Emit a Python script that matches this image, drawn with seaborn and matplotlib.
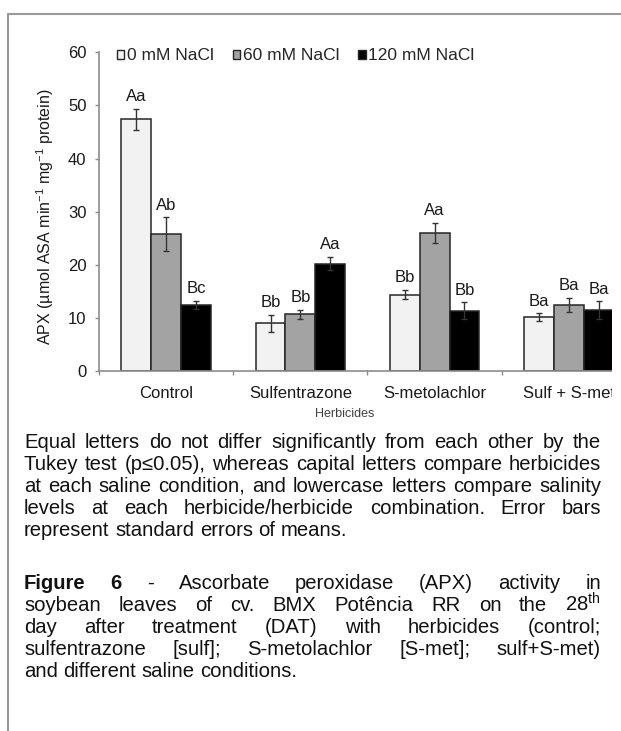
import matplotlib
matplotlib.use("Agg")
import matplotlib.pyplot as plt
import seaborn as sns
import pandas as pd
from matplotlib import font_manager
from matplotlib.patches import Patch, Rectangle
from matplotlib.lines import Line2D

# ---------------- data ----------------
herbicides = ["Control", "Sulfentrazone", "S-metolachlor", "Sulf + S-met"]
salinity = ["0 mM NaCl", "60 mM NaCl", "120 mM NaCl"]
apx_0 = [47.4, 9.0, 14.4, 10.1]
apx_60 = [25.7, 10.7, 26.0, 12.4]
apx_120 = [12.4, 20.2, 11.3, 11.4]
se_0 = [2.0, 1.6, 0.8, 0.75]
se_60 = [3.2, 0.85, 1.85, 1.35]
se_120 = [0.8, 1.25, 1.6, 1.7]
letters_0 = ["Aa", "Bb", "Bb", "Ba"]
letters_60 = ["Ab", "Bb", "Aa", "Ba"]
letters_120 = ["Bc", "Aa", "Bb", "Ba"]
y_ticks = [0, 10, 20, 30, 40, 50, 60]
y_label = "APX (µmol ASA min$^{-1}$ mg$^{-1}$ protein)"
x_label = "Herbicides"

note_lines = [
    "Equal letters do not differ significantly from each other by the",
    "Tukey test (p≤0.05), whereas capital letters compare herbicides",
    "at each saline condition, and lowercase letters compare salinity",
    "levels at each herbicide/herbicide combination. Error bars",
    "represent standard errors of means.",
]
caption_lines = [
    "Figure 6 - Ascorbate peroxidase (APX) activity in",
    "soybean leaves of cv. BMX Potência RR on the 28$^{\\mathregular{th}}$",
    "day after treatment (DAT) with herbicides (control;",
    "sulfentrazone [sulf]; S-metolachlor [S-met]; sulf+S-met)",
    "and different saline conditions.",
]

colors = ["#f2f2f2", "#a3a3a3", "#000000"]

# ---------------- style ----------------
sns.set_style("ticks")
plt.rcParams["font.family"] = ["Liberation Sans", "DejaVu Sans"]
plt.rcParams["mathtext.fontset"] = "custom"
plt.rcParams["mathtext.rm"] = "Liberation Sans"
plt.rcParams["mathtext.it"] = "Liberation Sans:italic"
plt.rcParams["mathtext.bf"] = "Liberation Sans:bold"

installed = {f.name for f in font_manager.fontManager.ttflist}
if "Liberation Sans Narrow" in installed:
    cap_family = ["Liberation Sans Narrow", "Liberation Sans", "DejaVu Sans"]
else:
    cap_family = ["Liberation Sans", "DejaVu Sans"]

W, H = 621, 731
fig = plt.figure(figsize=(W / 100, H / 100), dpi=100)
fig.patch.set_facecolor("white")

ax_left, ax_right, ax_top, ax_bottom = 99, 636, 52.3, 371
ax = fig.add_axes([ax_left / W, 1 - ax_bottom / H,
                   (ax_right - ax_left) / W, (ax_bottom - ax_top) / H])

rows = []
for h_i, h in enumerate(herbicides):
    for s, vals in zip(salinity, [apx_0, apx_60, apx_120]):
        rows.append({"herbicide": h, "salinity": s, "apx": vals[h_i]})
df = pd.DataFrame(rows)

sns.barplot(data=df, x="herbicide", y="apx", hue="salinity",
            order=herbicides, hue_order=salinity, palette=colors,
            edgecolor="#262626", linewidth=1.1, width=0.665,
            errorbar=None, legend=False, ax=ax, zorder=2)

for cont, ses, lets in zip(ax.containers, [se_0, se_60, se_120],
                           [letters_0, letters_60, letters_120]):
    xs = [b.get_x() + b.get_width() / 2 for b in cont]
    ys = [b.get_height() for b in cont]
    ax.errorbar(xs, ys, yerr=ses, fmt="none", ecolor="#333333",
                elinewidth=1, capsize=2.5, capthick=1, zorder=3)
    for x, y, e, l in zip(xs, ys, ses, lets):
        ax.annotate(l, (x, y + e), xytext=(0, 3.5), textcoords="offset points",
                    ha="center", va="bottom", fontsize=12, color="#1a1a1a")

ax.set_ylim(0, 60)
ax.set_yticks(y_ticks)
ax.set_xlim(-0.5, 3.5)
ax.set_xticks([-0.5, 0.5, 1.5, 2.5, 3.5])
ax.set_xticklabels([])
ax.set_xticks(range(len(herbicides)), minor=True)
ax.set_xticklabels(herbicides, minor=True)

spine_c = "#8c8c8c"
for s in ["top", "right"]:
    ax.spines[s].set_visible(False)
for s in ["left", "bottom"]:
    ax.spines[s].set_color(spine_c)
    ax.spines[s].set_linewidth(1.2)
ax.tick_params(axis="y", direction="out", length=3, width=1, color=spine_c,
               pad=6, labelsize=12, labelcolor="#1a1a1a")
ax.tick_params(axis="x", which="major", direction="out", length=3, width=1,
               color=spine_c)
ax.tick_params(axis="x", which="minor", length=0, pad=11, labelsize=12,
               labelcolor="#1a1a1a")

ax.set_ylabel(y_label, fontsize=11.5, color="#1a1a1a")
ax.yaxis.set_label_coords(-0.08, 0.485)
ax.set_xlabel(x_label, fontsize=9, color="#404040")
ax.xaxis.set_label_coords(0.458, -0.115)

handles = [Patch(facecolor=c, edgecolor="#262626", linewidth=1, label=s)
           for c, s in zip(colors, salinity)]
fig.legend(handles=handles, loc="center left", ncol=3,
           bbox_to_anchor=(117 / W, 1 - 56 / H), frameon=False,
           fontsize=12.5, handlelength=0.42, handleheight=0.42,
           handletextpad=0.15, columnspacing=1.1, borderpad=0,
           borderaxespad=0)

# cover to mimic the cropped right side
fig.add_artist(Rectangle((612 / W, 0), 1, 1 - 16 / H, transform=fig.transFigure,
                         facecolor="white", edgecolor="none", zorder=50))
# page frame lines
fig.add_artist(Line2D([8 / W, 1], [1 - 14 / H, 1 - 14 / H],
                      transform=fig.transFigure, color="#9a9a9a", lw=1.5, zorder=60))
fig.add_artist(Line2D([8 / W, 8 / W], [0, 1 - 14 / H],
                      transform=fig.transFigure, color="#9a9a9a", lw=1.5, zorder=60))

# ---------------- justified caption text ----------------
renderer = fig.canvas.get_renderer()
X0, X1 = 24, 601


def measure(s, size, weight="normal"):
    t = fig.text(0, 0, s, fontsize=size, fontweight=weight, family=cap_family)
    w = t.get_window_extent(renderer).width
    t.remove()
    return w


# calibrate the size so the tightest justified line nearly fills the column
base = 14.0
tight = [note_lines[0], note_lines[1], note_lines[2], caption_lines[3]]
widest = max(measure(l, base) for l in tight)
cap_size = min(base * 572.0 / widest, 15.5)


def draw_line(line, y_base, justify, bold_words=0):
    words = line.split(" ")
    texts = []
    for i, w in enumerate(words):
        wt = "bold" if i < bold_words else "normal"
        texts.append(fig.text(0, 1 - y_base / H, w, fontsize=cap_size,
                              fontweight=wt, va="baseline", ha="left",
                              color="#111111", family=cap_family))
    widths = [t.get_window_extent(renderer).width for t in texts]
    space = measure("a a", cap_size) - measure("aa", cap_size)
    if justify and len(words) > 1:
        gap = (X1 - X0 - sum(widths)) / (len(words) - 1)
    else:
        gap = space
    x = X0
    for t, w in zip(texts, widths):
        t.set_x(x / W)
        x += w + gap


note_base = [448, 470, 492, 514, 536]
for i, (ln, yb) in enumerate(zip(note_lines, note_base)):
    draw_line(ln, yb, justify=(i < len(note_lines) - 1))

cap_base = [589, 611, 633, 655, 677]
for i, (ln, yb) in enumerate(zip(caption_lines, cap_base)):
    draw_line(ln, yb, justify=(i < len(caption_lines) - 1),
              bold_words=2 if i == 0 else 0)

fig.savefig("out.png", dpi=100, facecolor="white")
